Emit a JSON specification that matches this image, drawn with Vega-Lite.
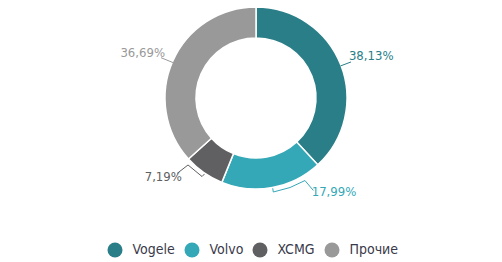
{
  "$schema": "https://vega.github.io/schema/vega-lite/v6.json",
  "width": 492,
  "height": 196,
  "padding": {"left": 10, "top": 0, "right": 0, "bottom": 0},
  "autosize": {"type": "pad"},
  "background": "#ffffff",
  "config": {
    "view": {"stroke": null},
    "font": "Liberation Sans Narrow, DejaVu Sans Condensed, Liberation Sans, sans-serif"
  },
  "datasets": {
    "shares": [
      {"brand": "Vogele", "share": 38.13, "label": "38,13%"},
      {"brand": "Volvo", "share": 17.99, "label": "17,99%"},
      {"brand": "XCMG", "share": 7.19, "label": "7,19%"},
      {"brand": "Прочие", "share": 36.69, "label": "36,69%"}
    ],
    "labelAnchors": [
      {"brand": "Vogele", "x": 1.266, "y": 0.463},
      {"brand": "Volvo", "x": 0.857, "y": -1.033},
      {"brand": "XCMG", "x": -1.019, "y": -0.865},
      {"brand": "Прочие", "x": -1.245, "y": 0.491}
    ],
    "leaders": [
      {"brand": "Vogele", "seq": 1, "x": 0.928, "y": 0.352},
      {"brand": "Vogele", "seq": 2, "x": 1.044, "y": 0.396},
      {"brand": "Volvo", "seq": 1, "x": 0.184, "y": -0.992},
      {"brand": "Volvo", "seq": 2, "x": 0.19, "y": -1.033},
      {"brand": "Volvo", "seq": 3, "x": 0.374, "y": -0.984},
      {"brand": "Volvo", "seq": 4, "x": 0.538, "y": -0.907},
      {"brand": "Volvo", "seq": 5, "x": 0.63, "y": -1.016},
      {"brand": "XCMG", "seq": 1, "x": -0.868, "y": -0.83},
      {"brand": "XCMG", "seq": 2, "x": -0.747, "y": -0.736},
      {"brand": "XCMG", "seq": 3, "x": -0.593, "y": -0.863},
      {"brand": "XCMG", "seq": 4, "x": -0.566, "y": -0.835},
      {"brand": "Прочие", "seq": 1, "x": -1.044, "y": 0.443},
      {"brand": "Прочие", "seq": 2, "x": -0.909, "y": 0.388}
    ]
  },
  "layer": [
    {
      "data": {"name": "shares"},
      "mark": {"type": "arc", "innerRadius": 60, "outerRadius": 91, "stroke": "#ffffff", "strokeWidth": 1.5},
      "encoding": {
        "theta": {"field": "share", "type": "quantitative", "stack": true},
        "color": {
          "field": "brand",
          "type": "nominal",
          "sort": ["Vogele", "Volvo", "XCMG", "Прочие"],
          "scale": {"domain": ["Vogele", "Volvo", "XCMG", "Прочие"], "range": ["#2a7e88", "#34a8b7", "#606062", "#999999"]},
          "legend": {
            "orient": "none",
            "legendX": 97.5,
            "legendY": 242.5,
            "direction": "horizontal",
            "title": null,
            "symbolType": "circle",
            "symbolSize": 225,
            "symbolStrokeWidth": 0,
            "symbolOpacity": 1,
            "labelFontSize": 14,
            "labelOffset": 10,
            "columnPadding": 9,
            "padding": 0,
            "labelColor": "#3a3a4a",
            "labelFont": "Liberation Sans Narrow, DejaVu Sans Condensed, Liberation Sans, sans-serif"
          }
        }
      }
    },
    {
      "data": {"name": "leaders"},
      "mark": {"type": "line", "strokeWidth": 1},
      "encoding": {
        "x": {"field": "x", "type": "quantitative", "scale": {"domain": [-2.7033, 2.7033], "nice": false, "zero": false}, "axis": null},
        "y": {"field": "y", "type": "quantitative", "scale": {"domain": [-1.0769, 1.0769], "nice": false, "zero": false}, "axis": null},
        "color": {"field": "brand", "type": "nominal", "sort": ["Vogele", "Volvo", "XCMG", "Прочие"], "legend": null},
        "detail": {"field": "brand", "type": "nominal"},
        "order": {"field": "seq", "type": "quantitative"}
      }
    },
    {
      "data": {"name": "labelAnchors"},
      "transform": [
        {"lookup": "brand", "from": {"data": {"name": "shares"}, "key": "brand", "fields": ["label"]}}
      ],
      "mark": {"type": "text", "fontSize": 13, "align": "center", "baseline": "middle"},
      "encoding": {
        "x": {"field": "x", "type": "quantitative", "scale": {"domain": [-2.7033, 2.7033], "nice": false, "zero": false}, "axis": null},
        "y": {"field": "y", "type": "quantitative", "scale": {"domain": [-1.0769, 1.0769], "nice": false, "zero": false}, "axis": null},
        "text": {"field": "label", "type": "nominal"},
        "color": {"field": "brand", "type": "nominal", "sort": ["Vogele", "Volvo", "XCMG", "Прочие"], "legend": null}
      }
    }
  ]
}
